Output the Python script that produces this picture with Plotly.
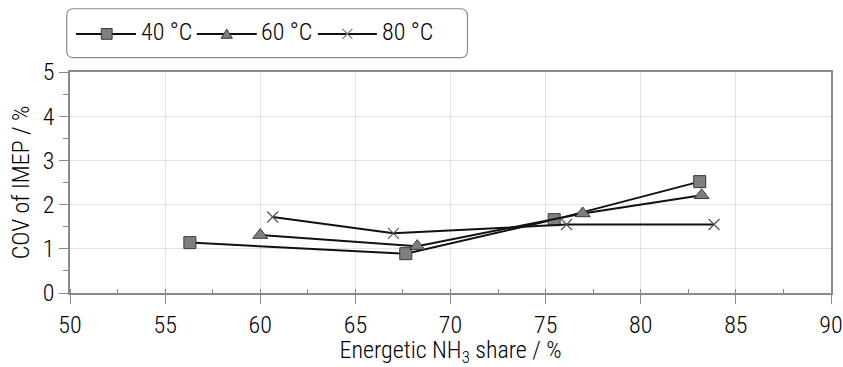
import plotly.graph_objects as go

# Measured data: COV of IMEP versus energetic NH3 share, per intake temperature
series_names = ["40 °C", "60 °C", "80 °C"]
nh3_40 = [56.3, 67.65, 75.45, 83.1]
cov_40 = [1.14, 0.89, 1.66, 2.52]
nh3_60 = [60.0, 68.25, 76.95, 83.2]
cov_60 = [1.31, 1.06, 1.80, 2.21]
nh3_80 = [60.65, 67.0, 76.1, 83.85]
cov_80 = [1.72, 1.35, 1.55, 1.55]

x_ticks = [50, 55, 60, 65, 70, 75, 80, 85, 90]
y_ticks = [0, 1, 2, 3, 4, 5]

FONT = "Roboto Condensed, Liberation Sans Narrow, sans-serif"
FS = 24
FW = 300
TXT = "#000000"
MARK_FILL = "#7f7f7f"
MARK_EDGE = "#3a3a3a"

W, H = 843, 367
L, R, T, B = 70, 12.3, 71.7, 73.7
PW, PH = W - L - R, H - T - B

fig = go.Figure()

styles = [
    dict(symbol="square", size=12, color=MARK_FILL, line=dict(color=MARK_EDGE, width=1)),
    dict(symbol="triangle-up", size=13, color=MARK_FILL, line=dict(color=MARK_EDGE, width=1)),
    dict(symbol="x-thin", size=11, color="#555555", line=dict(color="#555555", width=1.2)),
]
for name, xs, ys, mk in zip(series_names, [nh3_40, nh3_60, nh3_80],
                            [cov_40, cov_60, cov_80], styles):
    fig.add_trace(go.Scatter(
        x=xs, y=ys, mode="lines+markers", name=name,
        line=dict(color="#111111", width=2),
        marker=mk, showlegend=False,
    ))


# Pixel helpers for the framed legend drawn above the plot area
def px(xp):
    return (xp - L) / PW


def py(yp):
    return (H - B - yp) / PH


shapes = []
annotations = []

# Rounded legend frame
x0, x1, y0, y1, r = 66.7, 467.3, 8.3, 57.3, 7
path = (
    f"M {px(x0 + r)} {py(y0)} L {px(x1 - r)} {py(y0)} "
    f"Q {px(x1)} {py(y0)} {px(x1)} {py(y0 + r)} "
    f"L {px(x1)} {py(y1 - r)} Q {px(x1)} {py(y1)} {px(x1 - r)} {py(y1)} "
    f"L {px(x0 + r)} {py(y1)} Q {px(x0)} {py(y1)} {px(x0)} {py(y1 - r)} "
    f"L {px(x0)} {py(y0 + r)} Q {px(x0)} {py(y0)} {px(x0 + r)} {py(y0)} Z"
)
shapes.append(dict(type="path", xref="paper", yref="paper", path=path,
                   line=dict(color="#8c8c8c", width=1.2), fillcolor="rgba(0,0,0,0)"))

entries = [(76, 136, 106.7, 140.7), (196.7, 256.7, 226.7, 261.3), (317.7, 376.7, 347.3, 381.7)]
ly = 33.5
for i, (a, b, m, t) in enumerate(entries):
    shapes.append(dict(type="line", xref="paper", yref="paper",
                       x0=px(a), x1=px(b), y0=py(ly), y1=py(ly),
                       line=dict(color="#111111", width=2)))
    if i == 0:
        s = 5.4
        shapes.append(dict(type="rect", xref="paper", yref="paper",
                           x0=px(m - s), x1=px(m + s), y0=py(ly - s), y1=py(ly + s),
                           fillcolor=MARK_FILL, line=dict(color=MARK_EDGE, width=1)))
    elif i == 1:
        shapes.append(dict(type="path", xref="paper", yref="paper",
                           path=f"M {px(m - 5.6)} {py(ly + 4.4)} L {px(m + 5.6)} {py(ly + 4.4)} "
                                f"L {px(m)} {py(ly - 4.8)} Z",
                           fillcolor=MARK_FILL, line=dict(color=MARK_EDGE, width=1)))
    else:
        s = 5
        for dy in (s, -s):
            shapes.append(dict(type="line", xref="paper", yref="paper",
                               x0=px(m - s), x1=px(m + s), y0=py(ly - dy), y1=py(ly + dy),
                               line=dict(color="#777777", width=1.2)))
    annotations.append(dict(xref="paper", yref="paper", x=px(t - 2), y=py(ly - 1.5),
                            xanchor="left", yanchor="middle", showarrow=False,
                            text=series_names[i],
                            font=dict(family=FONT, size=FS, weight=FW, color=TXT)))

axis_common = dict(
    showline=True, linecolor="#8a8a8a", linewidth=1.5, mirror=True,
    showgrid=True, gridcolor="#e3e3e3", gridwidth=1,
    ticks="outside", ticklen=9, tickcolor="#8a8a8a", tickwidth=1.2,
    tickfont=dict(family=FONT, size=FS, weight=FW, color=TXT),
    zeroline=False, automargin=False,
)

fig.update_layout(
    width=W, height=H,
    margin=dict(l=L, r=R, t=T, b=B),
    paper_bgcolor="white", plot_bgcolor="white",
    shapes=shapes, annotations=annotations,
    xaxis=dict(
        range=[50, 90], tickvals=x_ticks,
        minor=dict(dtick=2.5, ticks="inside", ticklen=4, tickcolor="#8a8a8a", showgrid=False),
        title=dict(text="Energetic NH<sub>3</sub> share / %", standoff=4,
                   font=dict(family=FONT, size=FS, weight=FW, color=TXT)),
        **axis_common,
    ),
    yaxis=dict(
        range=[0, 5], tickvals=y_ticks,
        minor=dict(dtick=0.5, ticks="outside", ticklen=5, tickcolor="#8a8a8a", showgrid=False),
        title=dict(text="COV of IMEP / %", standoff=6,
                   font=dict(family=FONT, size=FS, weight=FW, color=TXT)),
        **axis_common,
    ),
)

fig.write_html("out.html")
